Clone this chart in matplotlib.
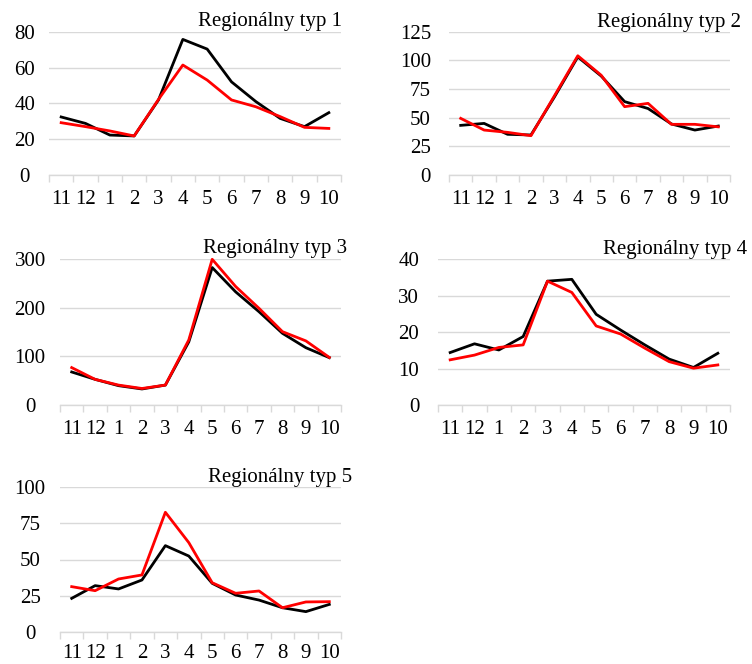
import matplotlib
matplotlib.use('Agg')
import matplotlib.pyplot as plt
from matplotlib.ticker import FixedLocator

plt.rcParams['font.family'] = ['Liberation Serif', 'DejaVu Serif']
plt.rcParams['font.size'] = 15

# months, November to October
months = ['11', '12', '1', '2', '3', '4', '5', '6', '7', '8', '9', '10']

# series per regional type: black and red line
typ1_black = [32.4, 28.8, 22.3, 21.8, 41.9, 75.7, 70.3, 52.0, 41.0, 31.6, 27.0, 34.8]
typ1_red = [29.2, 27.0, 24.6, 21.8, 42.2, 61.4, 53.0, 41.9, 38.1, 32.6, 26.6, 26.0]
typ2_black = [43.3, 45.0, 35.5, 34.9, 68.0, 103.0, 86.3, 64.0, 58.0, 44.5, 39.2, 42.7]
typ2_red = [49.4, 39.2, 37.2, 34.3, 69.0, 104.0, 87.0, 59.6, 62.5, 44.2, 44.2, 42.0]
typ3_black = [68.0, 52.8, 39.8, 33.0, 41.0, 130.0, 283.0, 233.0, 192.0, 147.6, 118.0, 97.5]
typ3_red = [77.0, 52.8, 41.0, 34.0, 41.0, 134.0, 300.0, 244.0, 199.0, 151.0, 132.0, 98.0]
typ4_black = [14.4, 16.8, 15.1, 18.8, 34.0, 34.5, 24.9, 20.6, 16.5, 12.6, 10.3, 14.2]
typ4_red = [12.4, 13.7, 15.8, 16.5, 34.0, 30.9, 21.7, 19.5, 15.6, 11.9, 10.1, 11.0]
typ5_black = [23.1, 31.9, 29.6, 35.8, 59.6, 52.4, 33.5, 25.4, 21.9, 16.6, 13.9, 18.9]
typ5_red = [31.2, 28.4, 36.5, 39.3, 82.7, 61.7, 33.9, 26.6, 28.2, 16.6, 20.6, 20.8]

titles = ['Regionálny typ 1', 'Regionálny typ 2', 'Regionálny typ 3',
          'Regionálny typ 4', 'Regionálny typ 5']
yticks = [[0, 20, 40, 60, 80], [0, 25, 50, 75, 100, 125], [0, 100, 200, 300],
          [0, 10, 20, 30, 40], [0, 25, 50, 75, 100]]
blacks = [typ1_black, typ2_black, typ3_black, typ4_black, typ5_black]
reds = [typ1_red, typ2_red, typ3_red, typ4_red, typ5_red]

W, H = 752, 664
fig = plt.figure(figsize=(W / 100, H / 100), dpi=100)

# plot areas in pixels: left, right, top, bottom
boxes = [(49, 341, 31.7, 175), (449, 730, 31.7, 175), (60, 341, 259.3, 405),
         (438, 730, 259.3, 405), (60, 341, 487.3, 631.7)]
# title right edge and baseline in pixels
title_pos = [(342, 26), (741, 27), (347, 253), (747, 254), (352, 482)]
# y label placement: (alignment, pad in points)
ylab = [('center', 17.5), ('right', 13), ('center', 21.5), ('right', 13.5), ('center', 21.5)]
# month label pad in points (last panel sits at the bottom edge)
xpad = [11, 11, 11, 11, 9]

grid_c = '#d9d9d9'
x = list(range(len(months)))

for i in range(5):
    l, r, t, b = boxes[i]
    ax = fig.add_axes([l / W, 1 - b / H, (r - l) / W, (b - t) / H])
    ax.plot(x, blacks[i], color='black', lw=2.0, clip_on=False, zorder=3)
    ax.plot(x, reds[i], color='#ff0000', lw=2.0, clip_on=False, zorder=4)

    ax.set_xlim(-0.5, len(months) - 0.5)
    ax.set_ylim(0, yticks[i][-1])
    ax.set_yticks(yticks[i])
    ax.grid(axis='y', color=grid_c, lw=1.0)
    ax.set_axisbelow(True)
    for s in ['top', 'right', 'left']:
        ax.spines[s].set_visible(False)
    ax.spines['bottom'].set_color(grid_c)
    ax.spines['bottom'].set_linewidth(1.0)

    # boundary ticks between months, labels centred on months
    ax.xaxis.set_major_locator(FixedLocator([v - 0.5 for v in range(len(months) + 1)]))
    ax.xaxis.set_minor_locator(FixedLocator(x))
    ax.set_xticklabels([], minor=False)
    ax.set_xticklabels(months, minor=True)
    ax.tick_params(axis='x', which='major', length=5, width=1.0, color=grid_c)
    ax.tick_params(axis='x', which='minor', length=0, pad=xpad[i])

    ha, pad = ylab[i]
    ax.tick_params(axis='y', length=0, pad=pad)
    for lbl in ax.get_yticklabels():
        lbl.set_horizontalalignment(ha)

    tx, ty = title_pos[i]
    fig.text(tx / W, 1 - ty / H, titles[i], ha='right', va='baseline')

fig.savefig('out.png', dpi=100)
